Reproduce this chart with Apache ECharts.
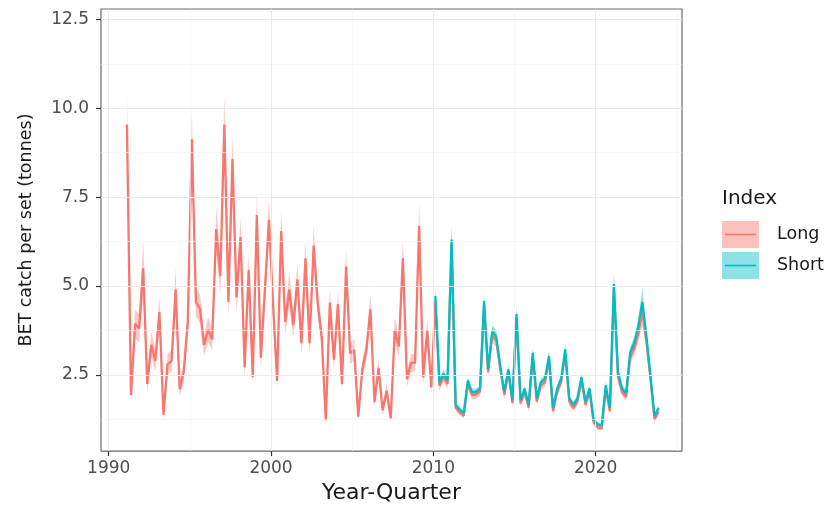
<!DOCTYPE html>
<html>
<head>
<meta charset="utf-8">
<script src="https://cdn.jsdelivr.net/npm/echarts@6/dist/echarts.min.js"></script>
<style>
  html, body { margin: 0; padding: 0; background: #fff; }
  #chart { width: 831px; height: 509px; }
</style>
</head>
<body>
<div id="chart"></div>
<script>
// Quarterly BET catch per set (tonnes), standardised index, two model variants.
const longFirstYear = 1991;   // Long index: 1991 Q1 .. 2023 Q4
const shortFirstYear = 2010;  // Short index: 2010 Q1 .. 2023 Q4

const longValues = [
  9.54, 1.93, 3.94, 3.81,   // 1991
  5.50, 2.25, 3.35, 2.90,   // 1992
  4.27, 1.38, 2.80, 2.90,   // 1993
  4.90, 2.10, 2.60, 4.00,   // 1994
  9.13, 4.55, 4.36, 3.35,   // 1995
  3.77, 3.50, 6.60, 5.28,   // 1996
  9.54, 4.55, 8.58, 4.68,   // 1997
  6.38, 2.71, 5.46, 2.44,   // 1998
  7.00, 2.99, 4.90, 6.86,   // 1999
  4.50, 2.33, 6.55, 3.99,   // 2000
  4.90, 3.90, 5.18, 3.39,   // 2001
  5.78, 3.39, 6.14, 4.54,   // 2002
  3.57, 1.23, 4.54, 2.93,   // 2003
  4.49, 2.24, 5.55, 3.11,   // 2004
  3.20, 1.33, 2.66, 3.20,   // 2005
  4.35, 1.74, 2.70, 1.51,   // 2006
  2.06, 1.28, 3.76, 3.30,   // 2007
  5.78, 2.38, 2.84, 2.84,   // 2008
  6.69, 2.43, 3.76, 2.15,   // 2009
  4.60, 2.20, 2.45, 2.25,   // 2010
  6.20, 1.58, 1.45, 1.36,   // 2011
  2.26, 1.94, 1.95, 2.03,   // 2012
  4.45, 2.58, 3.62, 3.48,   // 2013
  2.66, 1.94, 2.57, 1.71,   // 2014
  4.10, 1.70, 2.02, 1.58,   // 2015
  3.02, 1.75, 2.21, 2.30,   // 2016
  2.93, 1.48, 2.02, 2.30,   // 2017
  3.10, 1.75, 1.57, 1.75,   // 2018
  2.35, 1.66, 2.03, 1.17,   // 2019
  1.03, 1.00, 2.12, 1.48,   // 2020
  4.90, 2.45, 2.02, 1.88,   // 2021
  2.98, 3.25, 3.65, 4.30,   // 2022
  3.45, 2.40, 1.25, 1.47    // 2023
];

// Half-width of the Long confidence band
const longHalfWidth = [
  1.00, 0.20, 0.40, 0.40,
  0.80, 0.25, 0.35, 0.30,
  0.45, 0.15, 0.30, 0.30,
  0.60, 0.20, 0.30, 0.40,
  0.80, 0.40, 0.40, 0.30,
  0.35, 0.30, 0.60, 0.50,
  0.85, 0.40, 0.70, 0.40,
  0.55, 0.25, 0.50, 0.25,
  0.60, 0.30, 0.45, 0.60,
  0.40, 0.20, 0.60, 0.35,
  0.45, 0.35, 0.45, 0.30,
  0.50, 0.30, 0.55, 0.40,
  0.30, 0.10, 0.40, 0.25,
  0.40, 0.20, 0.50, 0.30,
  0.30, 0.12, 0.25, 0.30,
  0.40, 0.15, 0.25, 0.15,
  0.20, 0.12, 0.35, 0.30,
  0.55, 0.20, 0.25, 0.25,
  0.65, 0.20, 0.35, 0.20,
  0.30, 0.13, 0.15, 0.13,
  0.45, 0.10, 0.09, 0.08,
  0.13, 0.12, 0.12, 0.12,
  0.28, 0.15, 0.22, 0.20,
  0.16, 0.12, 0.15, 0.10,
  0.25, 0.10, 0.12, 0.10,
  0.18, 0.10, 0.13, 0.14,
  0.18, 0.09, 0.12, 0.14,
  0.19, 0.10, 0.10, 0.10,
  0.14, 0.10, 0.12, 0.07,
  0.06, 0.06, 0.13, 0.09,
  0.35, 0.15, 0.12, 0.11,
  0.18, 0.20, 0.22, 0.40,
  0.20, 0.14, 0.08, 0.09
];

const shortValues = [
  4.72, 2.30, 2.53, 2.34,   // 2010
  6.31, 1.66, 1.52, 1.43,   // 2011
  2.34, 2.02, 2.02, 2.11,   // 2012
  4.58, 2.66, 3.71, 3.58,   // 2013
  2.75, 2.02, 2.66, 1.79,   // 2014
  4.21, 1.79, 2.11, 1.66,   // 2015
  3.12, 1.84, 2.30, 2.39,   // 2016
  3.03, 1.57, 2.11, 2.40,   // 2017
  3.22, 1.84, 1.66, 1.84,   // 2018
  2.44, 1.75, 2.12, 1.25,   // 2019
  1.11, 1.08, 2.21, 1.57,   // 2020
  5.06, 2.58, 2.12, 1.98,   // 2021
  3.13, 3.40, 3.86, 4.55,   // 2022
  3.60, 2.50, 1.34, 1.57    // 2023
];

const shortHalfWidth = [
  0.25, 0.11, 0.12, 0.11,
  0.40, 0.08, 0.08, 0.07,
  0.11, 0.10, 0.10, 0.10,
  0.23, 0.13, 0.18, 0.18,
  0.14, 0.10, 0.13, 0.09,
  0.21, 0.09, 0.10, 0.08,
  0.15, 0.09, 0.11, 0.12,
  0.15, 0.08, 0.10, 0.12,
  0.16, 0.09, 0.08, 0.09,
  0.12, 0.09, 0.10, 0.06,
  0.06, 0.05, 0.11, 0.08,
  0.35, 0.13, 0.11, 0.10,
  0.16, 0.17, 0.20, 0.40,
  0.18, 0.12, 0.07, 0.08
];

const xTickLabels = [1990, 2000, 2010, 2020];
const xMinorBreaks = [1995, 2005, 2015, 2025];
const yTickLabels = [2.5, 5.0, 7.5, 10.0, 12.5];
const yMinorBreaks = [1.25, 3.75, 6.25, 8.75, 11.25];

const LONG_COLOR = '#F8766D';
const SHORT_COLOR = '#00BFC4';
const FONT = 'DejaVu Sans';

// quarter index -> decimal year at mid-quarter
function quarterTime(firstYear, i) {
  return firstYear + Math.floor(i / 4) + (i % 4) / 4 + 0.125;
}

function buildSeries(firstYear, values, half) {
  const line = [], lo = [], hi = [];
  values.forEach((v, i) => {
    const t = quarterTime(firstYear, i);
    line.push([t, v]);
    lo.push([t, v - half[i]]);
    hi.push([t, v + half[i]]);
  });
  return { line, lo, hi };
}

const longS = buildSeries(longFirstYear, longValues, longHalfWidth);
const shortS = buildSeries(shortFirstYear, shortValues, shortHalfWidth);

// confidence band drawn as one polygon through the axis scales
function ribbon(name, s, fill) {
  return {
    name, type: 'custom', silent: true, z: 2,
    data: [[2000, 5]],
    renderItem(params, api) {
      const pts = [];
      for (let i = 0; i < s.hi.length; i++) pts.push(api.coord(s.hi[i]));
      for (let i = s.lo.length - 1; i >= 0; i--) pts.push(api.coord(s.lo[i]));
      return { type: 'polygon', shape: { points: pts }, style: { fill: fill, stroke: null } };
    }
  };
}

const majorLine = { color: '#EBEBEB', width: 1.1, type: 'solid' };
const minorLine = { color: '#F4F4F4', width: 0.6, type: 'solid' };
const gridMarks = [
  ...yMinorBreaks.map(v => ({ yAxis: v, lineStyle: minorLine })),
  ...xMinorBreaks.map(v => ({ xAxis: v, lineStyle: minorLine })),
  ...yTickLabels.map(v => ({ yAxis: v, lineStyle: majorLine })),
  ...xTickLabels.map(v => ({ xAxis: v, lineStyle: majorLine }))
];

const chart = echarts.init(document.getElementById('chart'), null, { renderer: 'canvas' });

const option = {
  backgroundColor: '#ffffff',
  animation: false,
  grid: {
    left: 101, top: 9, width: 581, height: 452,
    show: true, borderColor: '#6b6b6b', borderWidth: 1.2, backgroundColor: '#ffffff'
  },
  xAxis: {
    type: 'value', min: 1989.526, max: 2025.32,
    axisLine: { show: false },
    splitLine: { show: false },
    axisTick: { show: true, customValues: xTickLabels, length: 5, lineStyle: { color: '#333', width: 1.2 } },
    axisLabel: {
      customValues: xTickLabels, margin: 9,
      fontFamily: FONT, fontSize: 17, color: '#4D4D4D',
      formatter: v => String(v)
    },
    name: 'Year-Quarter', nameLocation: 'middle', nameGap: 25,
    nameTextStyle: { fontFamily: FONT, fontSize: 22, color: '#1a1a1a' }
  },
  yAxis: {
    type: 'value', min: 0.36, max: 12.79,
    axisLine: { show: false },
    splitLine: { show: false },
    axisTick: { show: true, customValues: yTickLabels, length: 5, lineStyle: { color: '#333', width: 1.2 } },
    axisLabel: {
      customValues: yTickLabels, margin: 12,
      fontFamily: FONT, fontSize: 17, color: '#4D4D4D',
      formatter: v => v.toFixed(1)
    },
    name: 'BET catch per set (tonnes)', nameLocation: 'middle', nameGap: 66, nameRotate: 90,
    nameTextStyle: { fontFamily: FONT, fontSize: 17.5, color: '#1a1a1a' }
  },
  series: [
    {
      name: 'grid', type: 'scatter', data: [[2000, 5]], symbolSize: 0, silent: true, z: 0,
      markLine: { silent: true, symbol: 'none', label: { show: false }, animation: false, data: gridMarks }
    },
    ribbon('Long band', longS, 'rgba(248,118,109,0.40)'),
    ribbon('Short band', shortS, 'rgba(0,191,196,0.40)'),
    {
      name: 'Long', type: 'line', data: longS.line, showSymbol: false, z: 3,
      lineStyle: { color: LONG_COLOR, width: 2.3 }, itemStyle: { color: LONG_COLOR }
    },
    {
      name: 'Short', type: 'line', data: shortS.line, showSymbol: false, z: 4,
      lineStyle: { color: SHORT_COLOR, width: 2.3 }, itemStyle: { color: SHORT_COLOR }
    }
  ],
  graphic: [
    { type: 'text', left: 722, top: 189, style: { text: 'Index', font: '20px "DejaVu Sans"', fill: '#1a1a1a' } },
    { type: 'rect', shape: { x: 722, y: 221, width: 37, height: 27 }, style: { fill: 'rgba(248,118,109,0.45)' } },
    { type: 'line', shape: { x1: 725, y1: 234.5, x2: 756, y2: 234.5 }, style: { stroke: LONG_COLOR, lineWidth: 1.6 } },
    { type: 'rect', shape: { x: 722, y: 252, width: 37, height: 27 }, style: { fill: 'rgba(0,191,196,0.45)' } },
    { type: 'line', shape: { x1: 725, y1: 265.5, x2: 756, y2: 265.5 }, style: { stroke: SHORT_COLOR, lineWidth: 1.6 } },
    { type: 'text', left: 777, top: 225, style: { text: 'Long', font: '17.5px "DejaVu Sans"', fill: '#1a1a1a' } },
    { type: 'text', left: 777, top: 256, style: { text: 'Short', font: '17.5px "DejaVu Sans"', fill: '#1a1a1a' } }
  ]
};

chart.setOption(option);
</script>
</body>
</html>
